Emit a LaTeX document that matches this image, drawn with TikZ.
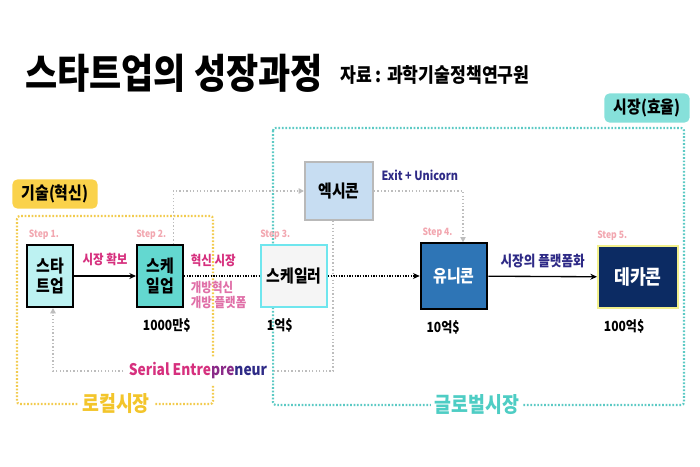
\documentclass[tikz,border=0pt]{standalone}
\usepackage{fontspec}
\setmainfont{Noto Sans CJK KR}[FakeStretch=0.86]
\usepackage{xcolor}
\usepackage{tikz}
\usetikzlibrary{
    arrows.meta,
    positioning,
    calc
}
\definecolor{sgcyanlight}{HTML}{BDF2F2}
\definecolor{sgteal}{HTML}{63D8D0}
\definecolor{sgscaler}{HTML}{F5F5F5}
\definecolor{sgscalerline}{HTML}{6FE6EE}
\definecolor{sgexit}{HTML}{C7DDF2}
\definecolor{sgexitline}{HTML}{B9B9B9}
\definecolor{sgunicorn}{HTML}{2E75B6}
\definecolor{sgdecacon}{HTML}{0C2B63}
\definecolor{sgdecaline}{HTML}{F2F08C}
\definecolor{sgtagcyan}{HTML}{86E0DA}
\definecolor{sgtagyellow}{HTML}{FAD24B}
\definecolor{sgframecyan}{HTML}{5CCAC4}
\definecolor{sgframeyellow}{HTML}{F2CB4E}
\definecolor{sgglobal}{HTML}{4ECDC4}
\definecolor{sglocal}{HTML}{F3C52B}
\definecolor{sgpink}{HTML}{F2A7B0}
\definecolor{sgmagenta}{HTML}{D6307E}
\definecolor{sglightmagenta}{HTML}{E070A8}
\definecolor{sgpurple}{HTML}{8A2A88}
\definecolor{sgnavy}{HTML}{2E2A86}
\definecolor{sgline}{HTML}{BDBDBD}
\tikzset{
    % Stage box
    sgbox/.style={
        rectangle,
        draw=black,
        line width=1.5pt,
        fill=#1,
        text=black,
        font=\fontsize{13}{15}\selectfont\bfseries,
        minimum width=34.5pt,
        minimum height=46.5pt,
        align=center,
        inner sep=2pt
    },
    sgbox/.default=sgcyanlight,
    % Region tag
    sgtag/.style={
        rectangle,
        rounded corners=4pt,
        fill=#1,
        text=black,
        font=\fontsize{13}{15}\selectfont\bfseries,
        minimum width=64pt,
        minimum height=22pt,
        inner sep=3pt
    },
    % Dotted market frame
    sgframe/.style={
        draw=#1,
        line width=1.6pt,
        rounded corners=2pt,
        dash pattern=on 1.3pt off 1.3pt
    },
    % Frame caption
    framecaption/.style={
        fill=white,
        text=#1,
        font=\fontsize{16}{18}\selectfont\bfseries,
        inner sep=3pt
    },
    % Step number
    steplabel/.style={
        font=\fontsize{7.5}{9}\selectfont\bfseries,
        text=sgpink,
        inner sep=0pt
    },
    % Value under a box
    valuelabel/.style={
        font=\fontsize{10.5}{12}\selectfont\bfseries,
        inner sep=0pt
    },
    % Connector label
    flowlabel/.style={
        font=\fontsize{10}{11.5}\selectfont\bfseries,
        text=#1,
        inner sep=1pt
    },
    flowlabel/.default=sgmagenta,
    % Arrow styles
    sgarrow/.style={
        ->,
        >={Stealth[length=5pt,width=4.5pt]},
        line width=1pt,
        color=black
    },
    sgdotted/.style={
        line width=1.1pt,
        dash pattern=on 1pt off 1pt,
        color=black
    },
    sggrey/.style={
        ->,
        >={Triangle[length=4pt,width=4pt]},
        line width=1.2pt,
        dash pattern=on 1pt off 1.6pt,
        color=sgline
    }
}
\begin{document}
\begin{tikzpicture}[x=0.75pt, y=-0.75pt]
    \useasboundingbox (0,0) rectangle (700,467);

    % heading
    \node[font=\fontsize{30.5}{34}\selectfont\bfseries, anchor=west, inner sep=0pt] (title) at (25,73) {스타트업의 성장과정};
    \node[font=\fontsize{15}{17}\selectfont\bfseries, anchor=west, inner sep=0pt] (source) at (340,75) {자료 : 과학기술정책연구원};

    % market frames
    \draw[sgframe=sgframecyan] (273,128) rectangle (684,405);
    \draw[sgframe=sgframeyellow] (17,216) rectangle (213,404);
    \node[sgtag=sgtagcyan] (market) at (647,108) {시장(효율)};
    \node[sgtag=sgtagyellow] (tech) at (55,194) {기술(혁신)};
    \node[framecaption=sglocal] (local) at (116,404) {로컬시장};
    \node[framecaption=sgglobal] (global) at (477,405) {글로벌시장};

    % stages
    \node[sgbox=sgcyanlight] (startup) at (50,276) {스타\\트업};
    \node[sgbox=sgteal] (scaleup) at (160,276) {스케\\일업};
    \node[sgbox=sgscaler, draw=sgscalerline, minimum width=49.5pt] (scaler) at (294,276) {스케일러};
    \node[sgbox=sgexit, draw=sgexitline, minimum width=51pt, minimum height=43pt] (exicon) at (339,191) {엑시콘};
    \node[sgbox=sgunicorn, text=white, minimum width=50pt, minimum height=49pt] (unicorn) at (454,276) {유니콘};
    \node[sgbox=sgdecacon, draw=sgdecaline, text=white, minimum width=60pt, font=\fontsize{15}{17}\selectfont\bfseries] (decacon) at (638,277) {데카콘};

    \node[steplabel, above=3pt of startup.north west, anchor=south west, xshift=2pt] (step1) {Step 1.};
    \node[steplabel, above=3pt of scaleup.north west, anchor=south west] (step2) {Step 2.};
    \node[steplabel, above=3pt of scaler.north west, anchor=south west] (step3) {Step 3.};
    \node[steplabel, above=3pt of unicorn.north west, anchor=south west, xshift=2pt] (step4) {Step 4.};
    \node[steplabel, above=3pt of decacon.north west, anchor=south west] (step5) {Step 5.};

    \node[valuelabel, below=8pt of scaleup.south west, anchor=north west, xshift=5pt] (v2) {1000만\$};
    \node[valuelabel, below=8pt of scaler.south west, anchor=north west, xshift=5pt] (v3) {1억\$};
    \node[valuelabel, below=8pt of unicorn.south west, anchor=north west, xshift=5pt] (v4) {10억\$};
    \node[valuelabel, below=8pt of decacon.south west, anchor=north west, xshift=5pt] (v5) {100억\$};

    % main flow
    \draw[sgarrow] (startup) -- node[flowlabel, above=6pt] {시장 확보} (scaleup);
    \draw[sgdotted] (scaleup) -- (scaler);
    \node[flowlabel, above right=6pt and 4pt of scaleup.east] (innov) {혁신 시장};
    \node[flowlabel=sglightmagenta, below right=3pt and 4pt of scaleup.east, align=left, font=\fontsize{10}{11}\selectfont\bfseries] (open) {개방혁신\\개방 플랫폼};
    \draw[sgarrow, dash pattern=on 1pt off 1pt] (scaler) -- (unicorn);
    \draw[sgarrow] (unicorn) -- node[flowlabel=sgnavy, above=5pt, font=\fontsize{11}{13}\selectfont\bfseries] {시장의 플랫폼화} (decacon);

    % exit route
    \draw[sggrey] ([xshift=10pt]scaleup.north) |- (exicon.west);
    \draw[sggrey] (exicon.east) -| ([xshift=6.75pt]unicorn.north);
    \node[flowlabel=sgnavy, font=\fontsize{9.5}{11}\selectfont\bfseries, anchor=west] (exitlbl) at ($(exicon.east)+(6,-16)$) {Exit + Unicorn};

    % serial entrepreneur loop
    \node[font=\fontsize{12}{14}\selectfont\bfseries, fill=white, inner sep=4pt] (serial) at (198,371)
        {{\color{sgmagenta}Serial Entre}{\color{sgpurple}pre}{\color{sgnavy}neur}};
    \draw[sggrey, -] ([xshift=-4.5pt]exicon.south) |- (serial.east);
    \draw[sggrey] (serial.west) -| ([xshift=2.25pt]startup.south);
\end{tikzpicture}
\end{document}
